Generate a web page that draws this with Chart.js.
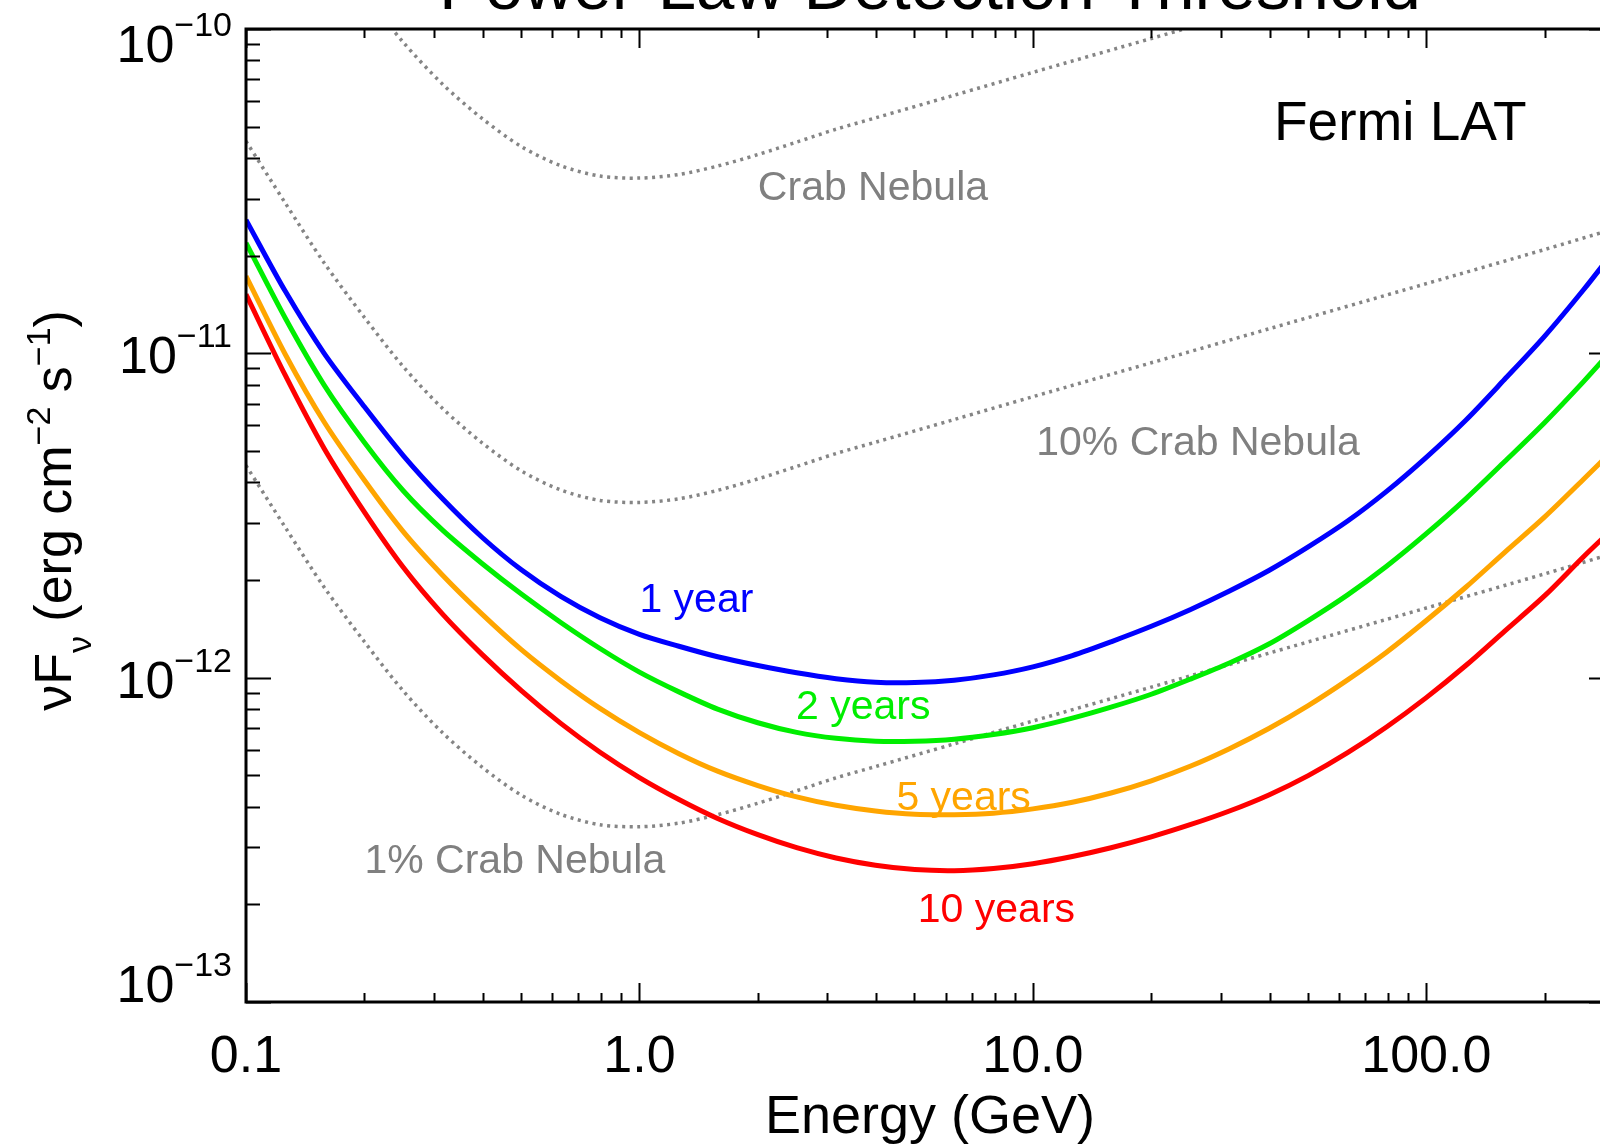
<!DOCTYPE html>
<html>
<head>
<meta charset="utf-8">
<script src="https://cdn.jsdelivr.net/npm/chart.js@4.4.1/dist/chart.umd.min.js"></script>
<style>
  html, body { margin: 0; padding: 0; background: #fff; overflow: hidden; }
  canvas { display: block; }
</style>
</head>
<body>
<canvas id="sensChart" width="1640" height="1145"></canvas>
<script>
// Energy grid (GeV), 0.1 decade steps, for the LAT threshold curves
const energyGeV = [0.1, 0.126, 0.158, 0.2, 0.251, 0.316, 0.398, 0.501, 0.631, 0.794,
  1.0, 1.26, 1.58, 2.0, 2.51, 3.16, 3.98, 5.01, 6.31, 7.94,
  10, 12.6, 15.8, 20, 25.1, 31.6, 39.8, 50.1, 63.1, 79.4,
  100, 126, 158, 200, 251, 300];

// Power-law detection threshold, nuF_nu in erg cm^-2 s^-1
const flux1yr = [2.58e-11, 1.55e-11, 1.00e-11, 6.84e-12, 4.84e-12, 3.56e-12, 2.71e-12, 2.15e-12, 1.78e-12, 1.53e-12,
  1.36e-12, 1.25e-12, 1.16e-12, 1.09e-12, 1.035e-12, 9.93e-13, 9.68e-13, 9.66e-13, 9.82e-13, 1.02e-12,
  1.08e-12, 1.17e-12, 1.29e-12, 1.44e-12, 1.62e-12, 1.85e-12, 2.14e-12, 2.53e-12, 3.04e-12, 3.76e-12,
  4.78e-12, 6.22e-12, 8.30e-12, 1.13e-11, 1.57e-11, 2.07e-11];
const flux2yr = [2.19e-11, 1.28e-11, 7.98e-12, 5.31e-12, 3.77e-12, 2.85e-12, 2.25e-12, 1.81e-12, 1.48e-12, 1.23e-12,
  1.04e-12, 9.04e-13, 8.00e-13, 7.26e-13, 6.78e-13, 6.50e-13, 6.37e-13, 6.37e-13, 6.46e-13, 6.68e-13,
  7.01e-13, 7.50e-13, 8.11e-13, 8.89e-13, 9.89e-13, 1.11e-12, 1.27e-12, 1.50e-12, 1.80e-12, 2.21e-12,
  2.78e-12, 3.56e-12, 4.63e-12, 6.12e-12, 8.18e-12, 1.04e-11];
const flux5yr = [1.73e-11, 9.90e-12, 6.14e-12, 4.06e-12, 2.82e-12, 2.07e-12, 1.57e-12, 1.22e-12, 9.79e-13, 8.04e-13,
  6.77e-13, 5.83e-13, 5.15e-13, 4.65e-13, 4.29e-13, 4.04e-13, 3.88e-13, 3.79e-13, 3.78e-13, 3.82e-13,
  3.94e-13, 4.13e-13, 4.41e-13, 4.81e-13, 5.33e-13, 6.04e-13, 6.97e-13, 8.20e-13, 9.84e-13, 1.20e-12,
  1.50e-12, 1.90e-12, 2.43e-12, 3.13e-12, 4.09e-12, 5.07e-12];
const flux10yr = [1.52e-11, 8.53e-12, 5.09e-12, 3.24e-12, 2.19e-12, 1.57e-12, 1.18e-12, 9.12e-13, 7.23e-13, 5.89e-13,
  4.92e-13, 4.21e-13, 3.68e-13, 3.28e-13, 2.99e-13, 2.78e-13, 2.64e-13, 2.56e-13, 2.54e-13, 2.58e-13,
  2.67e-13, 2.81e-13, 2.99e-13, 3.23e-13, 3.52e-13, 3.88e-13, 4.35e-13, 4.99e-13, 5.87e-13, 7.06e-13,
  8.68e-13, 1.09e-12, 1.39e-12, 1.79e-12, 2.36e-12, 2.90e-12];

// Crab Nebula spectrum and its 10% / 1% fractions
const crabEnergyGeV = [0.1, 0.126, 0.158, 0.2, 0.251, 0.316, 0.398, 0.501, 0.631, 0.794,
  1.0, 1.26, 1.58, 2.0, 2.51, 3.16, 3.98, 6.31, 10, 20, 39.8, 100, 200, 300];
const crabFlux = [4.51e-10, 2.90e-10, 1.90e-10, 1.29e-10, 9.10e-11, 6.76e-11, 5.30e-11, 4.34e-11, 3.79e-11, 3.52e-11,
  3.47e-11, 3.56e-11, 3.78e-11, 4.10e-11, 4.48e-11, 4.91e-11, 5.32e-11, 6.25e-11, 7.35e-11, 9.35e-11,
  1.19e-10, 1.64e-10, 2.09e-10, 2.42e-10];
const crab10Flux = [4.51e-11, 2.90e-11, 1.90e-11, 1.29e-11, 9.10e-12, 6.76e-12, 5.30e-12, 4.34e-12, 3.79e-12, 3.52e-12,
  3.47e-12, 3.56e-12, 3.78e-12, 4.10e-12, 4.48e-12, 4.91e-12, 5.32e-12, 6.25e-12, 7.35e-12, 9.35e-12,
  1.19e-11, 1.64e-11, 2.09e-11, 2.42e-11];
const crab1Flux = [4.51e-12, 2.90e-12, 1.90e-12, 1.29e-12, 9.10e-13, 6.76e-13, 5.30e-13, 4.34e-13, 3.79e-13, 3.52e-13,
  3.47e-13, 3.56e-13, 3.78e-13, 4.10e-13, 4.48e-13, 4.91e-13, 5.32e-13, 6.25e-13, 7.35e-13, 9.35e-13,
  1.19e-12, 1.64e-12, 2.09e-12, 2.42e-12];

// Axis ticks
const xMajorTicks = [0.1, 1, 10, 100];
const xTickLabels = ['0.1', '1.0', '10.0', '100.0'];
const yMajorExponents = [-13, -12, -11, -10];

const FONT = "'Liberation Sans', Arial, Helvetica, sans-serif";
const GRAY = '#808080';

// Curve annotations, anchored in data coordinates (left edge, baseline)
const annotations = [
  { text: 'Fermi LAT', e: 41, f: 4.55e-11, color: '#000000', size: 55 },
  { text: 'Crab Nebula', e: 2.0, f: 2.97e-11, color: GRAY, size: 41 },
  { text: '10% Crab Nebula', e: 10.2, f: 4.86e-12, color: GRAY, size: 41 },
  { text: '1% Crab Nebula', e: 0.2, f: 2.50e-13, color: GRAY, size: 41 },
  { text: '1 year', e: 1.0, f: 1.59e-12, color: '#0000ff', size: 41 },
  { text: '2 years', e: 2.5, f: 7.45e-13, color: '#00ee00', size: 41 },
  { text: '5 years', e: 4.5, f: 3.91e-13, color: '#ffa500', size: 41 },
  { text: '10 years', e: 5.1, f: 1.77e-13, color: '#ff0000', size: 41 }
];

const toPoints = (xs, ys) => xs.map((x, i) => ({ x, y: ys[i] }));

const solid = (label, ys, color) => ({
  label, data: toPoints(energyGeV, ys),
  borderColor: color, borderWidth: 5, pointRadius: 0,
  tension: 0.3, fill: false
});

const dotted = (label, ys) => ({
  label, data: toPoints(crabEnergyGeV, ys),
  borderColor: '#858585', borderWidth: 3.5, borderDash: [3, 4.5], borderCapStyle: 'butt',
  pointRadius: 0, tension: 0.3, fill: false
});

// Boxed axes with inward ticks, labels and texts, IDL style
const frame = {
  id: 'frame',
  afterDatasetsDraw(chart) {
    const { ctx, chartArea: a, scales: { x, y } } = chart;
    ctx.save();
    ctx.strokeStyle = '#000';
    ctx.fillStyle = '#000';

    // ticks
    ctx.lineWidth = 2;
    ctx.beginPath();
    for (let d = -1; d <= 2; d++) {
      for (let m = 1; m <= 9; m++) {
        const v = m * Math.pow(10, d);
        if (v < x.min || v > x.max) continue;
        const px = Math.round(x.getPixelForValue(v)) + 0.5;
        const len = m === 1 ? 19 : 9;
        ctx.moveTo(px, a.bottom); ctx.lineTo(px, a.bottom - len);
        ctx.moveTo(px, a.top); ctx.lineTo(px, a.top + len);
      }
    }
    for (let d = -13; d <= -10; d++) {
      for (let m = 1; m <= 9; m++) {
        const v = m * Math.pow(10, d);
        if (v < y.min * 0.999 || v > y.max * 1.001) continue;
        const py = Math.round(y.getPixelForValue(v)) + 0.5;
        const len = m === 1 ? 25 : 14;
        ctx.moveTo(a.left, py); ctx.lineTo(a.left + len, py);
        ctx.moveTo(a.right, py); ctx.lineTo(a.right - len, py);
      }
    }
    ctx.stroke();

    // box
    ctx.lineWidth = 3;
    ctx.beginPath();
    ctx.moveTo(a.left, a.top); ctx.lineTo(a.right, a.top);
    ctx.moveTo(a.left, a.bottom); ctx.lineTo(a.right, a.bottom);
    ctx.moveTo(a.left, a.top - 1.5); ctx.lineTo(a.left, a.bottom + 1.5);
    ctx.moveTo(a.right, a.top - 1.5); ctx.lineTo(a.right, a.bottom + 1.5);
    ctx.stroke();

    // x tick labels
    ctx.font = `52px ${FONT}`;
    ctx.textAlign = 'center';
    ctx.textBaseline = 'alphabetic';
    xMajorTicks.forEach((v, i) => {
      ctx.fillText(xTickLabels[i], x.getPixelForValue(v), 1072);
    });

    // y tick labels: 10 with a superscript exponent, kept inside the box height
    ctx.textAlign = 'left';
    yMajorExponents.forEach(p => {
      const py = y.getPixelForValue(Math.pow(10, p));
      const base = Math.min(Math.max(py + 20, a.top + 33), a.bottom);
      const sup = '\u2212' + Math.abs(p);
      ctx.font = `34px ${FONT}`;
      const sw = ctx.measureText(sup).width;
      ctx.font = `52px ${FONT}`;
      const mw = ctx.measureText('10').width;
      const right = 232;
      ctx.fillText('10', right - sw - mw, base);
      ctx.font = `34px ${FONT}`;
      ctx.fillText(sup, right - sw, base - 26);
    });

    // axis titles
    ctx.font = `54px ${FONT}`;
    ctx.textAlign = 'center';
    ctx.fillText('Energy (GeV)', (a.left + a.right) / 2, 1133);

    const pieces = [
      { t: '\u03bd', s: 52, dy: 0 },
      { t: 'F', s: 52, dy: 0 },
      { t: '\u03bd', s: 34, dy: 20 },
      { t: ' (erg cm', s: 52, dy: 0 },
      { t: '\u22122', s: 34, dy: -21 },
      { t: ' s', s: 52, dy: 0 },
      { t: '\u22121', s: 34, dy: -21 },
      { t: ')', s: 52, dy: 0 }
    ];
    ctx.textAlign = 'left';
    let total = 0;
    pieces.forEach(p => { ctx.font = `${p.s}px ${FONT}`; p.w = ctx.measureText(p.t).width; total += p.w; });
    ctx.save();
    ctx.translate(71, (a.top + a.bottom) / 2 - 5);
    ctx.rotate(-Math.PI / 2);
    let cx = -total / 2;
    pieces.forEach(p => {
      ctx.font = `${p.s}px ${FONT}`;
      ctx.fillText(p.t, cx, p.dy);
      cx += p.w;
    });
    ctx.restore();

    // title, mostly above the visible page
    ctx.font = `69px ${FONT}`;
    ctx.textAlign = 'center';
    ctx.fillText('Power-Law Detection Threshold', (a.left + a.right) / 2, 9);

    // curve annotations
    ctx.textAlign = 'left';
    annotations.forEach(n => {
      ctx.font = `${n.size}px ${FONT}`;
      ctx.fillStyle = n.color;
      ctx.fillText(n.text, x.getPixelForValue(n.e), y.getPixelForValue(n.f));
    });
    ctx.restore();
  }
};

new Chart(document.getElementById('sensChart').getContext('2d'), {
  type: 'line',
  data: {
    datasets: [
      solid('1 year', flux1yr, '#0000ff'),
      solid('2 years', flux2yr, '#00ee00'),
      solid('5 years', flux5yr, '#ffa500'),
      solid('10 years', flux10yr, '#ff0000'),
      dotted('Crab Nebula', crabFlux),
      dotted('10% Crab Nebula', crab10Flux),
      dotted('1% Crab Nebula', crab1Flux)
    ]
  },
  options: {
    responsive: false,
    animation: false,
    devicePixelRatio: 1,
    layout: { padding: { left: 246, top: 29, right: 26, bottom: 143 } },
    scales: {
      x: { type: 'logarithmic', min: 0.1, max: 300, display: false },
      y: { type: 'logarithmic', min: 1e-13, max: 1e-10, display: false }
    },
    plugins: {
      legend: { display: false },
      tooltip: { enabled: false },
      title: { display: false }
    }
  },
  plugins: [frame]
});
</script>
</body>
</html>
